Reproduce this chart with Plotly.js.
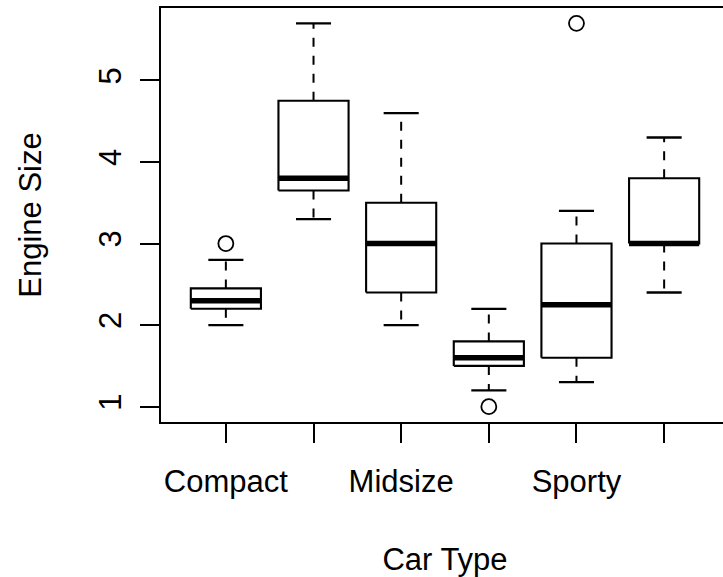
<!DOCTYPE html>
<html>
<head>
<meta charset="utf-8">
<script src="https://cdn.plot.ly/plotly-3.0.1.min.js"></script>
<style>
html, body { margin: 0; padding: 0; overflow: hidden; background: #fff; }
#chart { width: 740px; height: 577px; }
</style>
</head>
<body>
<div id="chart"></div>
<script>
// Cars93: EngineSize by Type
const categories = ['Compact', 'Large', 'Midsize', 'Small', 'Sporty', 'Van'];
const tickLabels = ['Compact', '', 'Midsize', '', 'Sporty', ''];
const lowerWhisker = [2.0, 3.3, 2.0, 1.2, 1.3, 2.4];
const q1 = [2.2, 3.65, 2.4, 1.5, 1.6, 3.0];
const median = [2.3, 3.8, 3.0, 1.6, 2.25, 3.0];
const q3 = [2.45, 4.75, 3.5, 1.8, 3.0, 3.8];
const upperWhisker = [2.8, 5.7, 4.6, 2.2, 3.4, 4.3];
const outlierCat = [1, 4, 5];
const outlierVal = [3.0, 1.0, 5.7];

const hw = 0.4, sw = 0.2;
const boxX = [], boxY = [], medX = [], medY = [], whX = [], whY = [], stX = [], stY = [];
categories.forEach((c, k) => {
  const i = k + 1;
  boxX.push(i - hw, i + hw, i + hw, i - hw, i - hw, null);
  boxY.push(q1[k], q1[k], q3[k], q3[k], q1[k], null);
  medX.push(i - hw, i + hw, null);
  medY.push(median[k], median[k], null);
  whX.push(i, i, null, i, i, null);
  whY.push(q3[k], upperWhisker[k], null, q1[k], lowerWhisker[k], null);
  stX.push(i - sw, i + sw, null, i - sw, i + sw, null);
  stY.push(upperWhisker[k], upperWhisker[k], null, lowerWhisker[k], lowerWhisker[k], null);
});

const base = {type: 'scatter', mode: 'lines', hoverinfo: 'skip', showlegend: false};
const traces = [
  Object.assign({}, base, {x: whX, y: whY, line: {color: '#000', width: 2, dash: '9px,9px'}}),
  Object.assign({}, base, {x: stX, y: stY, line: {color: '#000', width: 2.3}}),
  Object.assign({}, base, {x: boxX, y: boxY, line: {color: '#000', width: 2.1}}),
  Object.assign({}, base, {x: medX, y: medY, line: {color: '#000', width: 5.5}}),
  {type: 'scatter', mode: 'markers', x: outlierCat, y: outlierVal, showlegend: false,
   marker: {symbol: 'circle-open', size: 15, color: '#000', line: {width: 1.8, color: '#000'}}}
];

const font = {family: 'Liberation Sans, Arial, sans-serif', size: 31, color: '#000'};
const layout = {
  width: 740, height: 577,
  margin: {l: 161, r: 11, t: 8, b: 155},
  paper_bgcolor: '#fff', plot_bgcolor: '#fff',
  font: font,
  showlegend: false,
  xaxis: {
    range: [0.26, 6.74], tickvals: [1, 2, 3, 4, 5, 6], ticktext: tickLabels,
    showgrid: false, zeroline: false, showline: true, mirror: true,
    linecolor: '#000', linewidth: 2, ticks: 'outside', ticklen: 19, tickwidth: 2, tickcolor: '#000',
    tickfont: font, ticklabelstandoff: 12,
    title: {text: 'Car Type', font: font, standoff: 52}
  },
  yaxis: {
    range: [0.812, 5.888], tickvals: [1, 2, 3, 4, 5], ticktext: ['1', '2', '3', '4', '5'],
    showgrid: false, zeroline: false, showline: true, mirror: true,
    linecolor: '#000', linewidth: 2, ticks: 'outside', ticklen: 19, tickwidth: 2, tickcolor: '#000',
    tickfont: font, tickangle: -90, ticklabelstandoff: 7,
    title: {text: 'Engine Size', font: font, standoff: 42}
  }
};
Plotly.newPlot('chart', traces, layout, {staticPlot: true, displayModeBar: false});
</script>
</body>
</html>
